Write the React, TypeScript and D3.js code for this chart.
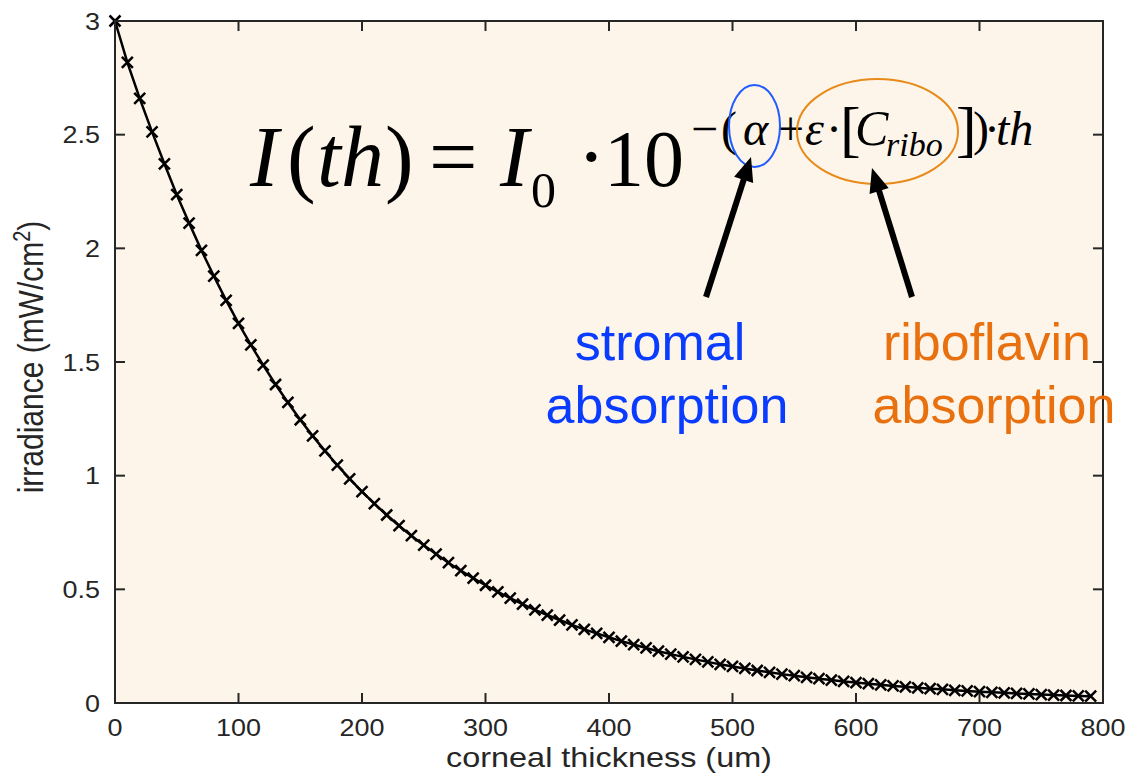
import React from "react";
import * as d3 from "d3";

const thicknessUm = [
  0, 10, 20, 30, 40, 50, 60, 70, 80, 90,
  100, 110, 120, 130, 140, 150, 160, 170, 180, 190,
  200, 210, 220, 230, 240, 250, 260, 270, 280, 290,
  300, 310, 320, 330, 340, 350, 360, 370, 380, 390,
  400, 410, 420, 430, 440, 450, 460, 470, 480, 490,
  500, 510, 520, 530, 540, 550, 560, 570, 580, 590,
  600, 610, 620, 630, 640, 650, 660, 670, 680, 690,
  700, 710, 720, 730, 740, 750, 760, 770, 780, 790,
];

const irradiance = [
  3.0, 2.818, 2.66, 2.512, 2.372, 2.236, 2.111, 1.991, 1.878, 1.771,
  1.67, 1.575, 1.486, 1.401, 1.322, 1.246, 1.175, 1.109, 1.046, 0.986,
  0.93, 0.877, 0.827, 0.78, 0.736, 0.694, 0.655, 0.617, 0.582, 0.549,
  0.518, 0.489, 0.461, 0.435, 0.41, 0.387, 0.365, 0.344, 0.324, 0.306,
  0.289, 0.272, 0.257, 0.242, 0.228, 0.215, 0.203, 0.192, 0.181, 0.17,
  0.161, 0.152, 0.143, 0.135, 0.127, 0.12, 0.113, 0.107, 0.101, 0.095,
  0.09, 0.085, 0.08, 0.075, 0.071, 0.067, 0.063, 0.06, 0.056, 0.053,
  0.05, 0.047, 0.045, 0.042, 0.04, 0.037, 0.035, 0.033, 0.031, 0.03,
];

const xTicks = [0, 100, 200, 300, 400, 500, 600, 700, 800];
const yTicks = [0, 0.5, 1, 1.5, 2, 2.5, 3];
const yTickLabels = ["0", "0.5", "1", "1.5", "2", "2.5", "3"];

const xLabel = "corneal thickness (um)";
const stromalLines = ["stromal", "absorption"];
const riboLines = ["riboflavin", "absorption"];

const AXIS = "#262626";
const BLUE = "#0a3cff";
const ORANGE = "#e8700f";

function Arrow({ x1, y1, x2, y2 }: { x1: number; y1: number; x2: number; y2: number }) {
  const dx = x2 - x1;
  const dy = y2 - y1;
  const len = Math.hypot(dx, dy);
  const ux = dx / len;
  const uy = dy / len;
  const headLen = 24;
  const headHalf = 10;
  const bx = x2 - ux * headLen;
  const by = y2 - uy * headLen;
  const px = -uy;
  const py = ux;
  const pts = [
    [x2, y2],
    [bx + px * headHalf, by + py * headHalf],
    [bx - px * headHalf, by - py * headHalf],
  ];
  return (
    <g>
      <line x1={x1} y1={y1} x2={bx + ux * 4} y2={by + uy * 4} stroke="#000" strokeWidth={6} />
      <polygon points={pts.map((p) => p.join(",")).join(" ")} fill="#000" />
    </g>
  );
}

export default function App() {
  const W = 1128;
  const H = 774;
  const left = 115;
  const right = 1103;
  const top = 21;
  const bottom = 703;

  const x = d3.scaleLinear().domain([0, 800]).range([left, right]);
  const y = d3.scaleLinear().domain([0, 3]).range([bottom, top]);

  const pts: [number, number][] = thicknessUm.map((t, i) => [t, irradiance[i]]);
  const linePath = d3
    .line<[number, number]>()
    .x((d) => x(d[0]))
    .y((d) => y(d[1]))(pts) as string;

  const tickLen = 10;
  const sans = "'Liberation Sans', Arial, Helvetica, sans-serif";
  const serif = "'Liberation Serif', 'Times New Roman', serif";
  const ms = 5.5;

  return (
    <svg
      width={W}
      height={H}
      style={{ position: "fixed", left: 0, top: 0, background: "#fff" }}
    >
      <rect x={left} y={top} width={right - left} height={bottom - top} fill="#fdf5ea" />

      {/* data line */}
      <path d={linePath} fill="none" stroke="#000" strokeWidth={2.5} />
      {pts.map((d, i) => (
        <path
          key={i}
          transform={`translate(${x(d[0])},${y(d[1])})`}
          d={`M${-ms},${-ms}L${ms},${ms}M${-ms},${ms}L${ms},${-ms}`}
          stroke="#000"
          strokeWidth={2.5}
          fill="none"
        />
      ))}

      {/* axes box */}
      <rect
        x={left}
        y={top}
        width={right - left}
        height={bottom - top}
        fill="none"
        stroke={AXIS}
        strokeWidth={2}
      />
      {xTicks.map((t) => (
        <g key={"xt" + t}>
          <line x1={x(t)} x2={x(t)} y1={bottom} y2={bottom - tickLen} stroke={AXIS} strokeWidth={2} />
          <line x1={x(t)} x2={x(t)} y1={top} y2={top + tickLen} stroke={AXIS} strokeWidth={2} />
          <text
            transform={`translate(${x(t)},${736}) scale(1.1,1)`}
            textAnchor="middle"
            fontFamily={sans}
            fontSize={24.5}
            fill={AXIS}
          >
            {String(t)}
          </text>
        </g>
      ))}
      {yTicks.map((t, i) => (
        <g key={"yt" + t}>
          <line x1={left} x2={left + tickLen} y1={y(t)} y2={y(t)} stroke={AXIS} strokeWidth={2} />
          <line x1={right} x2={right - tickLen} y1={y(t)} y2={y(t)} stroke={AXIS} strokeWidth={2} />
          <text
            transform={`translate(${100},${y(t) + 8.5}) scale(1.1,1)`}
            textAnchor="end"
            fontFamily={sans}
            fontSize={24.5}
            fill={AXIS}
          >
            {yTickLabels[i]}
          </text>
        </g>
      ))}

      {/* axis labels */}
      <text
        transform={`translate(${(left + right) / 2},${767}) scale(1.2,1)`}
        textAnchor="middle"
        fontFamily={sans}
        fontSize={27}
        fill={AXIS}
      >
        {xLabel}
      </text>
      <text
        transform={`translate(${43},${357}) scale(1.15,1) rotate(-90)`}
        textAnchor="middle"
        fontFamily={sans}
        fontSize={30}
        fill={AXIS}
      >
        irradiance (mW/cm
        <tspan dy={-11} fontSize={20}>
          2
        </tspan>
        <tspan dy={11}>)</tspan>
      </text>

      {/* equation */}
      <g fontFamily={serif} fill="#000">
        <text x={250} y={186} fontSize={86} fontStyle="italic">I</text>
        <text x={287} y={186} fontSize={86}>(</text>
        <text x={317} y={186} fontSize={86} fontStyle="italic">th</text>
        <text x={385} y={186} fontSize={86}>)</text>
        <text x={429} y={186} fontSize={86}>=</text>
        <text x={500} y={186} fontSize={86} fontStyle="italic">I</text>
        <text x={531} y={207} fontSize={50}>0</text>
        <text x={577} y={186} fontSize={86}>·</text>
        <text x={604} y={186} fontSize={80}>10</text>

        <text x={691} y={145} fontSize={48}>−</text>
        <text x={721} y={145} fontSize={48}>(</text>
        <text x={743} y={145} fontSize={48} fontStyle="italic">α</text>
        <text x={777} y={145} fontSize={48}>+</text>
        <text x={805} y={145} fontSize={48} fontStyle="italic">ε</text>
        <text x={826} y={145} fontSize={48}>·</text>
        <text x={840} y={150} fontSize={62}>[</text>
        <text x={855} y={145} fontSize={50} fontStyle="italic">C</text>
        <text x={886} y={156} fontSize={34} fontStyle="italic">ribo</text>
        <text x={956} y={150} fontSize={62}>]</text>
        <text x={973} y={145} fontSize={48}>)</text>
        <text x={984} y={145} fontSize={48}>·</text>
        <text x={996} y={145} fontSize={48} fontStyle="italic">th</text>
      </g>

      {/* highlight ellipses */}
      <ellipse cx={754.5} cy={126} rx={25.5} ry={41} fill="none" stroke="#1f5bff" strokeWidth={2} />
      <ellipse cx={877.5} cy={131.5} rx={80.5} ry={52.5} fill="none" stroke="#e88a1a" strokeWidth={2} />

      {/* arrows */}
      <Arrow x1={706} y1={297} x2={751} y2={157} />
      <Arrow x1={912} y1={297} x2={872} y2={168} />

      {/* annotation text */}
      <g fontFamily={sans} fontSize={52}>
        <text x={660} y={360} textAnchor="middle" fill={BLUE}>{stromalLines[0]}</text>
        <text x={667} y={423} textAnchor="middle" fill={BLUE}>{stromalLines[1]}</text>
        <text x={987} y={360} textAnchor="middle" fill={ORANGE}>{riboLines[0]}</text>
        <text x={994} y={423} textAnchor="middle" fill={ORANGE}>{riboLines[1]}</text>
      </g>
    </svg>
  );
}
